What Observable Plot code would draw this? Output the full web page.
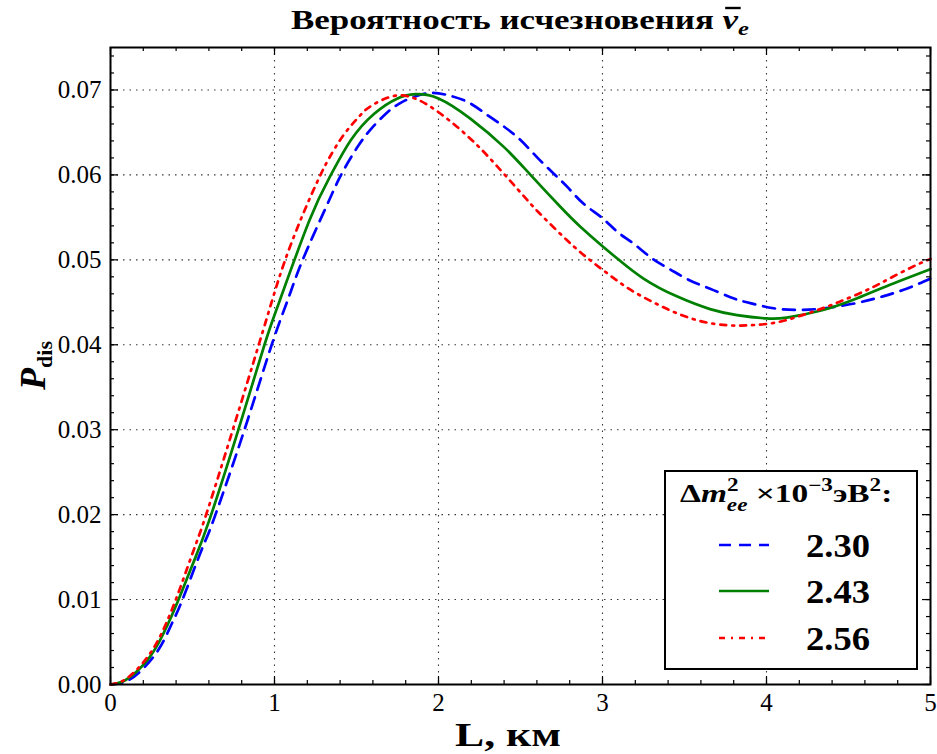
<!DOCTYPE html>
<html><head><meta charset="utf-8">
<script src="https://cdn.jsdelivr.net/npm/d3@7"></script>
<script src="https://cdn.jsdelivr.net/npm/@observablehq/plot@0.6"></script>
<style>body{margin:0;background:#fff;} svg{display:block}</style>
</head><body><div id="chart"></div>
<script>
// ---- data ----
const seriesLabels = ["2.30", "2.43", "2.56"];

const L_230 = [0,0.1,0.2,0.296,0.37,0.437,0.52,0.58,0.64,0.817,0.983,1.085,1.172,1.314,1.385,1.446,1.517,1.588,1.679,1.78,1.93,2.054,2.176,2.287,2.398,2.5,2.6,2.7,2.79,2.885,3.0,3.09,3.19,3.3,3.41,3.53,3.656,3.78,3.88,4.043,4.185,4.307,4.43,4.57,4.71,4.854,5.0];
const P_230 = [0,0.0004,0.0019,0.0042,0.0070,0.0099,0.0141,0.0170,0.0200,0.0300,0.0400,0.0455,0.0500,0.0562,0.0592,0.0614,0.0636,0.0654,0.0672,0.0686,0.0696,0.0694,0.0686,0.0672,0.0657,0.0641,0.0621,0.0602,0.0585,0.0566,0.0549,0.0533,0.0519,0.0502,0.0489,0.0476,0.0466,0.0456,0.0450,0.0443,0.0441,0.0442,0.0445,0.0450,0.0457,0.0466,0.0478];

const L_243 = [0,0.09,0.2,0.296,0.4,0.5,0.6,0.78,0.939,1.03,1.212,1.344,1.466,1.608,1.75,1.86,2.0,2.196,2.398,2.561,2.75,2.865,3.0,3.1,3.25,3.453,3.656,3.82,4.0,4.124,4.327,4.53,4.732,5.0];
const P_243 = [0,0.0005,0.0023,0.0050,0.0093,0.0141,0.0192,0.0300,0.0400,0.0451,0.0546,0.0600,0.0641,0.0672,0.0690,0.0695,0.0690,0.0666,0.0633,0.0600,0.0561,0.0539,0.0516,0.0500,0.0478,0.0457,0.0442,0.0435,0.0431,0.0432,0.0440,0.0453,0.0469,0.0489];

const L_256 = [0,0.09,0.2,0.29,0.357,0.41,0.466,0.52,0.59,0.746,0.904,0.979,1.06,1.172,1.273,1.334,1.425,1.527,1.588,1.73,1.88,2.013,2.135,2.246,2.358,2.52,2.62,2.784,2.915,3.037,3.16,3.29,3.43,3.595,3.757,3.9,4.053,4.205,4.357,4.5,4.64,4.77,4.915,5.0];
const P_256 = [0,0.0006,0.0026,0.0052,0.0080,0.0106,0.0136,0.0165,0.0204,0.0300,0.0400,0.0448,0.0497,0.0553,0.0597,0.0620,0.0648,0.0671,0.0681,0.0693,0.0688,0.0672,0.0653,0.0633,0.0610,0.0575,0.0554,0.0523,0.0501,0.0483,0.0466,0.0452,0.0439,0.0428,0.0423,0.0423,0.0426,0.0434,0.0444,0.0455,0.0467,0.0480,0.0494,0.0501];

const xTickValues = [0, 1, 2, 3, 4, 5];
const yTickValues = [0, 0.01, 0.02, 0.03, 0.04, 0.05, 0.06, 0.07];
const xMinorValues = d3.range(0, 5.0001, 0.2);
const yMinorValues = d3.range(0, 0.0751, 0.002);

const titleText = "Вероятность исчезновения ";
const xLabelText = "L, км";

// ---- styles ----
const seriesStyle = {
  "2.30": {stroke: "#0000ff", dash: "12,8"},
  "2.43": {stroke: "#008000", dash: null},
  "2.56": {stroke: "#ff0000", dash: "6,6,2,6"}
};

const W = 937, H = 754;
const mL = 110, mR = 7, mT = 47, mB = 70;
const fw = W - mL - mR, fh = H - mT - mB;

const rows = (Ls, Ps, s) => Ls.map((L, i) => ({L, P: Ps[i], s}));
const data = {
  "2.30": rows(L_230, P_230, "2.30"),
  "2.43": rows(L_243, P_243, "2.43"),
  "2.56": rows(L_256, P_256, "2.56")
};

const font = "'Liberation Serif', 'DejaVu Serif', serif";
const gridStyle = {stroke: "#222", strokeOpacity: 0.9, strokeWidth: 1.1, strokeDasharray: "1.5,5"};

const tickMarks = (len, minor) => {
  const xs = minor ? xMinorValues : xTickValues;
  const ys = minor ? yMinorValues : yTickValues;
  const sw = 1.2;
  return [
    Plot.tickX(xs, {x: d => d, insetTop: fh - len, stroke: "black", strokeWidth: sw}),
    Plot.tickX(xs, {x: d => d, insetBottom: fh - len, stroke: "black", strokeWidth: sw}),
    Plot.tickY(ys, {y: d => d, insetRight: fw - len, stroke: "black", strokeWidth: sw}),
    Plot.tickY(ys, {y: d => d, insetLeft: fw - len, stroke: "black", strokeWidth: sw})
  ];
};

const svg = Plot.plot({
  width: W, height: H,
  marginLeft: mL, marginRight: mR, marginTop: mT, marginBottom: mB,
  style: {fontFamily: font, fontSize: "25px", color: "black", background: "white", overflow: "visible"},
  x: {domain: [0, 5], label: null},
  y: {domain: [0, 0.075], label: null},
  marks: [
    Plot.gridX(xTickValues, gridStyle),
    Plot.gridY(yTickValues, gridStyle),
    ...seriesLabels.map(k => Plot.line(data[k], {
      x: "L", y: "P", stroke: seriesStyle[k].stroke, strokeWidth: 2.7,
      strokeDasharray: seriesStyle[k].dash, curve: "natural"
    })),
    ...tickMarks(4, true),
    ...tickMarks(8, false),
    Plot.frame({stroke: "black", strokeWidth: 2}),
    Plot.axisX({ticks: xTickValues, tickFormat: d => String(d), tickSize: 0, tickPadding: 9, label: null, fontSize: 25}),
    Plot.axisY({ticks: yTickValues, tickFormat: d => d.toFixed(2), tickSize: 0, tickPadding: 9, label: null, fontSize: 25})
  ]
});
document.getElementById("chart").appendChild(svg);

// ---- texts & legend ----
const s = d3.select(svg);
const cx = mL + fw / 2;

// title
const tg = s.append("g");
const t = tg.append("text").attr("x", 0).attr("y", 0).attr("text-anchor", "middle")
  .attr("font-family", font).attr("font-weight", "bold").attr("font-size", 27).attr("fill", "black");
t.append("tspan").text(titleText);
t.append("tspan").attr("font-style", "italic").text("ν");
t.append("tspan").attr("font-style", "italic").attr("font-size", 19).attr("dy", 6).text("e");
{
  const el = t.node();
  const idx = titleText.length;
  const a = el.getStartPositionOfChar(idx), b = el.getEndPositionOfChar(idx);
  tg.append("line").attr("x1", a.x + 2).attr("x2", b.x + 2).attr("y1", -21).attr("y2", -21)
    .attr("stroke", "black").attr("stroke-width", 2.4);
}
{
  const w = t.node().getComputedTextLength();
  tg.attr("transform", `translate(${cx},29) scale(${458 / w},1)`);
}

// x label
const xg = s.append("g");
const xt = xg.append("text").attr("x", 0).attr("y", 0).attr("text-anchor", "middle")
  .attr("font-family", font).attr("font-weight", "bold").attr("font-size", 33).attr("fill", "black")
  .text(xLabelText);
xg.attr("transform", `translate(508,746) scale(${106 / xt.node().getComputedTextLength()},1)`);

// y label
const yl = s.append("text").attr("transform", `translate(45,${mT + fh / 2}) rotate(-90)`)
  .attr("text-anchor", "middle").attr("font-family", font).attr("font-weight", "bold").attr("fill", "black");
yl.append("tspan").attr("font-style", "italic").attr("font-size", 36).text("P");
yl.append("tspan").attr("font-size", 22).attr("dy", 7).text("dis");

// legend
const g = s.append("g");
g.append("rect").attr("x", 665).attr("y", 471).attr("width", 252).attr("height", 198)
  .attr("fill", "white").attr("stroke", "black").attr("stroke-width", 2);
const lg = g.append("g");
const lt = lg.append("text").attr("x", 0).attr("y", 0).attr("text-anchor", "start").attr("font-family", font)
  .attr("font-weight", "bold").attr("font-size", 26).attr("fill", "black");
lt.append("tspan").text("Δ");
lt.append("tspan").attr("font-style", "italic").text("m");
lt.append("tspan").attr("font-size", 18).attr("dy", -11).text("2");
lt.append("tspan").attr("font-size", 18).attr("font-style", "italic").attr("dx", -9).attr("dy", 20).text("ee");
lt.append("tspan").attr("dy", -9).text(" ×10");
lt.append("tspan").attr("font-size", 18).attr("dy", -11).text("−3");
lt.append("tspan").attr("dy", 11).text("эВ");
lt.append("tspan").attr("font-size", 18).attr("dy", -11).text("2");
lt.append("tspan").attr("dy", 11).text(":");
lg.attr("transform", `translate(680,502) scale(${224 / lt.node().getComputedTextLength()},1)`);

const rowY = [545, 591, 638];
seriesLabels.forEach((k, i) => {
  g.append("line").attr("x1", 719).attr("x2", 769).attr("y1", rowY[i]).attr("y2", rowY[i])
    .attr("stroke", seriesStyle[k].stroke).attr("stroke-width", 2.7)
    .attr("stroke-dasharray", seriesStyle[k].dash);
  const ng = g.append("g");
  const nt = ng.append("text").attr("x", 0).attr("y", 0).attr("text-anchor", "start").attr("font-family", font)
    .attr("font-weight", "bold").attr("font-size", 34).attr("fill", "black").text(k);
  ng.attr("transform", `translate(806,${rowY[i] + 12}) scale(${64 / nt.node().getComputedTextLength()},1)`);
});
</script></body></html>
